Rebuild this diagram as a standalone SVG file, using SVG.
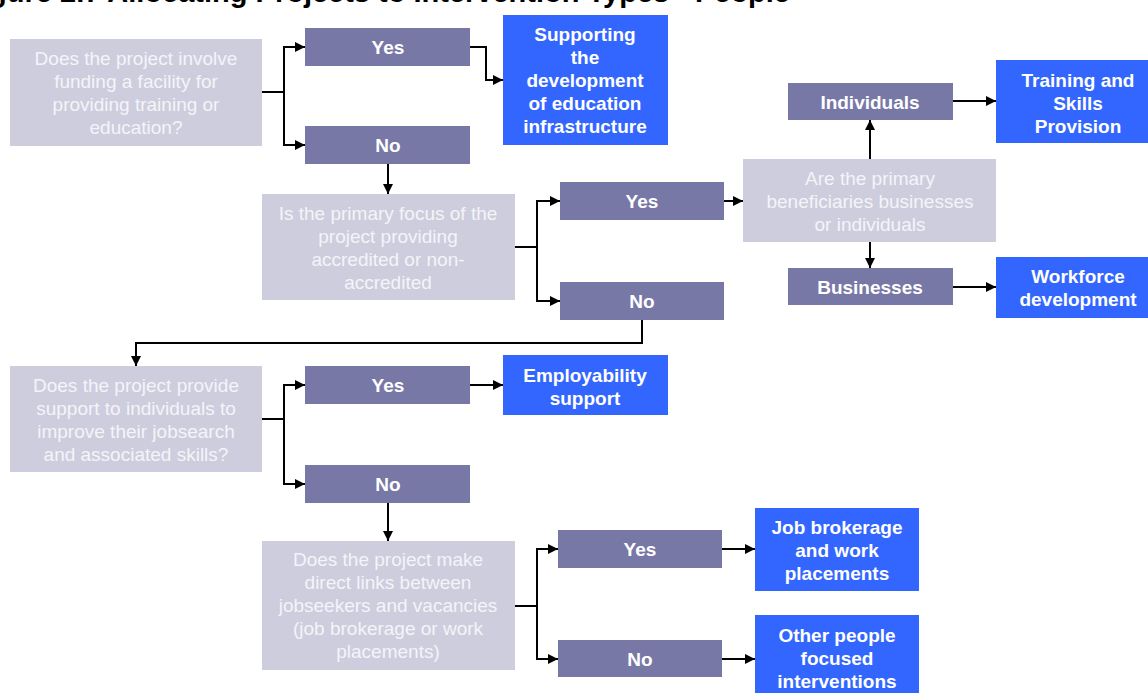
<svg xmlns="http://www.w3.org/2000/svg" width="1148" height="693" viewBox="0 0 1148 693">
<style>
.q{fill:#CECDDE}
.a{fill:#7878A6}
.o{fill:#3366FF}
.qt{font-family:"Liberation Sans",Arial,sans-serif;font-size:19px;fill:#F4F4F8;text-anchor:middle}
.lt{font-family:"Liberation Sans",Arial,sans-serif;font-size:19px;font-weight:bold;fill:#FFFFFF;text-anchor:middle}
.title{font-family:"Liberation Sans",Arial,sans-serif;font-size:29px;font-weight:bold;fill:#000}
.c{fill:none;stroke:#000;stroke-width:2;marker-end:url(#ah)}
.cn{fill:none;stroke:#000;stroke-width:2}
</style>
<defs>
<marker id="ah" markerUnits="userSpaceOnUse" viewBox="0 0 10 10" refX="10" refY="5" markerWidth="10" markerHeight="10" orient="auto">
<path d="M0,0 L10,5 L0,10 z" fill="#000"/>
</marker>
</defs>
<rect width="1148" height="693" fill="#FFFFFF"/>
<text class="title" x="790" y="2" text-anchor="end">Figure 2.7 Allocating Projects to Intervention Types - People</text>

<g id="connectors">
<path class="c" d="M262,92 H284 V47 H305"/>
<path class="c" d="M284,92 V145 H305"/>
<path class="c" d="M470,47 H486 V80 H503"/>
<path class="c" d="M388,164 V194"/>
<path class="c" d="M515,247 H537 V201 H560"/>
<path class="c" d="M537,247 V301 H560"/>
<path class="c" d="M724,201 H743"/>
<path class="c" d="M870,159 V120"/>
<path class="c" d="M870,242 V268"/>
<path class="c" d="M953,101 H996"/>
<path class="c" d="M953,287 H996"/>
<path class="c" d="M642,320 V343 H136 V366"/>
<path class="c" d="M262,419 H284 V385 H305"/>
<path class="c" d="M284,419 V484 H305"/>
<path class="c" d="M470,385 H503"/>
<path class="c" d="M388,503 V541"/>
<path class="c" d="M515,606 H537 V549 H558"/>
<path class="c" d="M537,606 V659 H558"/>
<path class="c" d="M722,549 H755"/>
<path class="c" d="M722,659 H755"/>
</g>

<g id="q1">
<rect class="q" x="10" y="39" width="252" height="107"/>
<text class="qt" x="136" y="65">Does the project involve</text>
<text class="qt" x="136" y="88">funding a facility for</text>
<text class="qt" x="136" y="111">providing training or</text>
<text class="qt" x="136" y="134">education?</text>
</g>
<g id="yes1">
<rect class="a" x="305" y="28" width="165" height="38"/>
<text class="lt" x="388" y="54">Yes</text>
</g>
<g id="no1">
<rect class="a" x="305" y="126" width="165" height="38"/>
<text class="lt" x="388" y="152">No</text>
</g>
<g id="out-infrastructure">
<rect class="o" x="503" y="15" width="165" height="130"/>
<text class="lt" x="585" y="41">Supporting</text>
<text class="lt" x="585" y="64">the</text>
<text class="lt" x="585" y="87">development</text>
<text class="lt" x="585" y="110">of education</text>
<text class="lt" x="585" y="133">infrastructure</text>
</g>

<g id="q2">
<rect class="q" x="262" y="194" width="253" height="106"/>
<text class="qt" x="388" y="220">Is the primary focus of the</text>
<text class="qt" x="388" y="243">project providing</text>
<text class="qt" x="388" y="266">accredited or non-</text>
<text class="qt" x="388" y="289">accredited</text>
</g>
<g id="yes2">
<rect class="a" x="560" y="182" width="164" height="38"/>
<text class="lt" x="642" y="208">Yes</text>
</g>
<g id="no2">
<rect class="a" x="560" y="282" width="164" height="38"/>
<text class="lt" x="642" y="308">No</text>
</g>

<g id="q3">
<rect class="q" x="743" y="159" width="253" height="83"/>
<text class="qt" x="870" y="185">Are the primary</text>
<text class="qt" x="870" y="208">beneficiaries businesses</text>
<text class="qt" x="870" y="231">or individuals</text>
</g>
<g id="individuals">
<rect class="a" x="788" y="83" width="165" height="37"/>
<text class="lt" x="870" y="109">Individuals</text>
</g>
<g id="businesses">
<rect class="a" x="788" y="268" width="165" height="37"/>
<text class="lt" x="870" y="294">Businesses</text>
</g>
<g id="out-training">
<rect class="o" x="996" y="60" width="168" height="83"/>
<text class="lt" x="1078" y="87">Training and</text>
<text class="lt" x="1078" y="110">Skills</text>
<text class="lt" x="1078" y="133">Provision</text>
</g>
<g id="out-workforce">
<rect class="o" x="996" y="257" width="168" height="61"/>
<text class="lt" x="1078" y="283">Workforce</text>
<text class="lt" x="1078" y="306">development</text>
</g>

<g id="q4">
<rect class="q" x="10" y="366" width="252" height="106"/>
<text class="qt" x="136" y="392">Does the project provide</text>
<text class="qt" x="136" y="415">support to individuals to</text>
<text class="qt" x="136" y="438">improve their jobsearch</text>
<text class="qt" x="136" y="461">and associated skills?</text>
</g>
<g id="yes3">
<rect class="a" x="305" y="366" width="165" height="38"/>
<text class="lt" x="388" y="392">Yes</text>
</g>
<g id="no3">
<rect class="a" x="305" y="465" width="165" height="38"/>
<text class="lt" x="388" y="491">No</text>
</g>
<g id="out-employability">
<rect class="o" x="503" y="355" width="165" height="60"/>
<text class="lt" x="585" y="382">Employability</text>
<text class="lt" x="585" y="405">support</text>
</g>

<g id="q5">
<rect class="q" x="262" y="541" width="253" height="129"/>
<text class="qt" x="388" y="566">Does the project make</text>
<text class="qt" x="388" y="589">direct links between</text>
<text class="qt" x="388" y="612">jobseekers and vacancies</text>
<text class="qt" x="388" y="635">(job brokerage or work</text>
<text class="qt" x="388" y="658">placements)</text>
</g>
<g id="yes4">
<rect class="a" x="558" y="530" width="164" height="38"/>
<text class="lt" x="640" y="556">Yes</text>
</g>
<g id="no4">
<rect class="a" x="558" y="640" width="164" height="37"/>
<text class="lt" x="640" y="666">No</text>
</g>
<g id="out-brokerage">
<rect class="o" x="755" y="508" width="164" height="83"/>
<text class="lt" x="837" y="534">Job brokerage</text>
<text class="lt" x="837" y="557">and work</text>
<text class="lt" x="837" y="580">placements</text>
</g>
<g id="out-other">
<rect class="o" x="755" y="615" width="164" height="85"/>
<text class="lt" x="837" y="642">Other people</text>
<text class="lt" x="837" y="665">focused</text>
<text class="lt" x="837" y="688">interventions</text>
</g>
</svg>
